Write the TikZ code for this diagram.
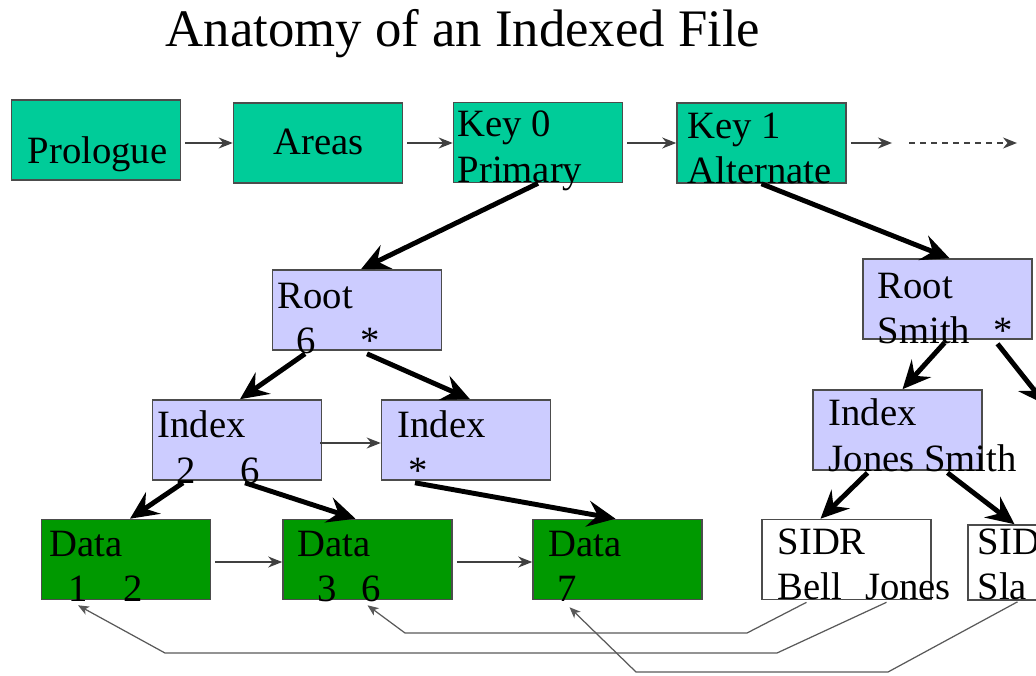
\documentclass[tikz,border=0pt]{standalone}
\usepackage{fontspec}
\setmainfont{Liberation Serif}
\usetikzlibrary{arrows.meta}
\definecolor{keygreen}{HTML}{00CC99}
\definecolor{idxblue}{HTML}{CCCCFF}
\definecolor{datagreen}{HTML}{009900}

\begin{document}
\begin{tikzpicture}[x=0.1mm,y=-0.1mm]
  \tikzstyle{box}=[draw=black!70,line width=0.45pt,minimum width=16.9mm,minimum height=8mm,inner sep=0pt]
  \tikzstyle{keybox}=[box,fill=keygreen]
  \tikzstyle{idxbox}=[box,fill=idxblue]
  \tikzstyle{databox}=[box,fill=datagreen]
  \tikzstyle{sidrbox}=[box,fill=white]
  \tikzstyle{txt}=[anchor=north west,inner sep=0pt,align=left,font=\fontsize{11}{13}\selectfont]
  \tikzstyle{link}=[draw=black!75,line width=0.45pt,shorten <=0.4mm,-{Stealth[length=1.4mm,width=1.1mm,inset=0.45mm]}]
  \tikzstyle{tree}=[line width=1.4pt,-{Stealth[length=2.8mm,width=2.6mm,inset=1mm]}]
  \tikzstyle{ptr}=[draw=black!65,line width=0.35pt,-{Stealth[length=1.1mm,width=0.9mm,inset=0.3mm]}]
  \useasboundingbox (0,0) rectangle (1036,675);
  \clip (0,0) rectangle (1036,675);

  \node[anchor=base west,inner sep=0pt,font=\fontsize{15}{18}\selectfont] (title) at (165,47) {Anatomy of an Indexed File};

  % file layout
  \node[keybox] (prologue) at (96,140)    {};
  \node[keybox] (areas)    at (318,143)   {};
  \node[keybox] (key0)     at (538,142.5) {};
  \node[keybox] (key1)     at (761.5,143) {};
  \coordinate (etc1) at (892,143);
  \coordinate (etc2) at (905,143);
  \coordinate (etc3) at (1017,143);

  % primary key tree
  \node[idxbox]  (rootl)  at (357,310)     {};
  \node[idxbox]  (indexl) at (237,440)     {};
  \node[idxbox]  (indexr) at (466,440)     {};
  \node[databox] (data1)  at (126,559.5)   {};
  \node[databox] (data2)  at (367.5,559.5) {};
  \node[databox] (data3)  at (617.5,559.5) {};

  % alternate key tree
  \node[idxbox]  (rootr)   at (947.5,299)   {};
  \node[idxbox]  (indexrs) at (897.5,430)   {};
  \node[sidrbox] (sidr1)   at (846.5,559.5) {};
  \node[sidrbox,minimum height=7.5mm] (sidr2) at (1052.5,562.5) {};
  \coordinate (offr) at (1046,405);

  % box texts
  \node[txt,anchor=base west] (t-prologue) at (27,163)  {Prologue};
  \node[txt,anchor=base west] (t-areas)    at (273,155) {Areas};
  \node[txt] (t-key0)    at (457,110) {Key 0\\Primary};
  \node[txt] (t-key1)    at (687,112) {Key 1\\Alternate};
  \node[txt] (t-rootl)   at (277,282) {Root\\\hspace*{1.9mm}6\hspace{4.4mm}*};
  \node[txt] (t-indexl)  at (157,410) {Index\\\hspace*{1.9mm}2\hspace{4.4mm}6};
  \node[txt] (t-indexr)  at (397,410) {Index\\\hspace*{1.1mm}*};
  \node[txt] (t-data1)   at (49,530)  {Data\\\hspace*{1.9mm}1\hspace{3.5mm}2};
  \node[txt] (t-data2)   at (297,530) {Data\\\hspace*{2mm}3\hspace{2.4mm}6};
  \node[txt] (t-data3)   at (548,530) {Data\\\hspace*{0.9mm}7};
  \node[txt] (t-rootr)   at (877,272) {Root\\Smith\hspace{2.3mm}*};
  \node[txt] (t-indexrs) at (828,398) {Index\\Jones Smith};
  \node[txt] (t-sidr1)   at (777,528) {SIDR\\Bell\hspace{2.3mm}Jones};
  \node[txt] (t-sidr2)   at (977,528) {SIDR\\Sla};

  % chain of the file
  \draw[link] (prologue.east |- areas) -- (areas.west);
  \draw[link] (areas.east) -- (key0.west |- areas);
  \draw[link] (key0.east |- key1) -- (key1.west);
  \draw[link] (key1.east) -- (etc1);
  \draw[link,dashed,dash pattern=on 0.6mm off 0.5mm] (etc2) -- (etc3);
  \draw[link] ([shift={(-6,3)}]indexl.east) -- ([shift={(0,3)}]indexr.west);
  \draw[link] ([shift={(0,2.5)}]data1.east) -- ([shift={(0,2.5)}]data2.west);
  \draw[link] ([shift={(0,2.5)}]data2.east) -- ([shift={(0,2.5)}]data3.west);

  % tree pointers
  \draw[tree] (key0.south) -- ([shift={(4,0)}]rootl.north);
  \draw[tree] (key1.south) -- ([shift={(2,0)}]rootr.north);
  \draw[tree] ([shift={(-52,3)}]rootl.south) -- ([shift={(3,0)}]indexl.north);
  \draw[tree] ([shift={(10,3)}]rootl.south) -- ([shift={(4,0)}]indexr.north);
  \draw[tree] ([shift={(-54,2)}]indexl.south) -- ([shift={(4,0)}]data1.north);
  \draw[tree] ([shift={(8,2)}]indexl.south) -- ([shift={(-12,0)}]data2.north);
  \draw[tree] ([shift={(-51,2)}]indexr.south) -- ([shift={(-2,0)}]data3.north);
  \draw[tree] ([shift={(-3,3)}]rootr.south) -- ([shift={(5,0)}]indexrs.north);
  \draw[tree] ([shift={(50,4)}]rootr.south) -- (offr);
  \draw[tree] ([shift={(-30,2)}]indexrs.south) -- ([shift={(-26,0)}]sidr1.north);
  \draw[tree] ([shift={(50,2)}]indexrs.south) -- ([shift={(-38,0)}]sidr2.north);

  % record pointers back to data
  \draw[ptr] ([shift={(-40,2)}]sidr1.south) -- (747,633) -- (405,633) -- ([shift={(0,5)}]data2.south);
  \draw[ptr] ([shift={(40,2)}]sidr1.south) -- (777,653) -- (165,653) -- ([shift={(-48,5)}]data1.south);
  \draw[ptr] ([shift={(-35,1)}]sidr2.south) -- (888,672) -- (636,672) -- ([shift={(-48,7)}]data3.south);
\end{tikzpicture}
\end{document}
